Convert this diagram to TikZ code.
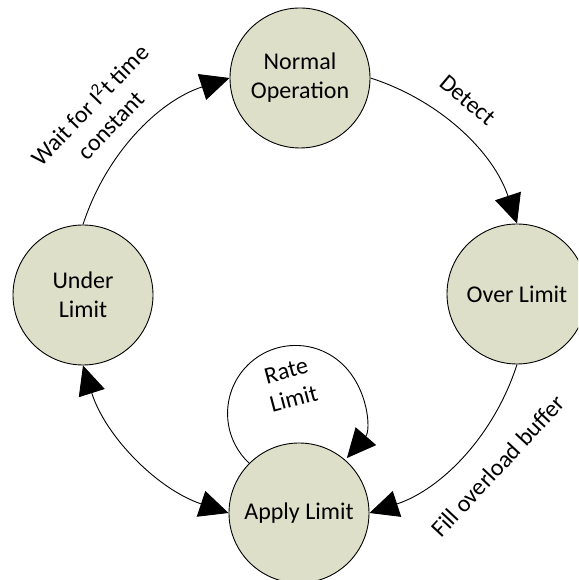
\documentclass[tikz,border=0pt]{standalone}
\usepackage{fontspec}
\setmainfont{Carlito}
\usetikzlibrary{arrows.meta}
\definecolor{statefill}{RGB}{221,223,201}
\begin{document}
\begin{tikzpicture}[x=1pt,y=1pt,
  state/.style={circle,draw=black,line width=0.9pt,fill=statefill,minimum size=140pt,inner sep=0pt,align=center,
    font=\fontsize{24}{29}\selectfont},
  lbl/.style={align=center,font=\fontsize{24}{29}\selectfont,inner sep=0pt},
  conn/.style={line width=0.9pt,-{Triangle[length=29pt,width=27pt]}},
  dconn/.style={line width=0.9pt,{Triangle[length=29pt,width=27pt]}-{Triangle[length=29pt,width=27pt]}}]
\clip (0,0) rectangle (578,580);
\node[state] (N) at (300,502) {Normal\\Operation};
\node[state] (O) at (517,286) {Over Limit};
\node[state] (A) at (299,67) {Apply Limit};
\node[state] (U) at (83,285) {Under\\Limit};
\draw[conn] (N.east) to[bend left=27,looseness=0.92] (O.north);
\draw[conn] (O.south) to[bend left=27,looseness=0.92] (A.east);
\draw[dconn] (U.south) to[bend right=27,looseness=0.92] (A.west);
\draw[conn] (U.north) to[bend left=27,looseness=0.92] (N.west);
\draw[conn] (A.135) arc[start angle=227,end angle=-41,radius=68];
\node[lbl,rotate=46] (lw) at (99,466) {Wait for I\textsuperscript{2}t time\\constant};
\node[lbl,rotate=-40] (ld) at (468,480) {Detect};
\node[lbl,rotate=47] (lf) at (498,114) {Fill overload buffer};
\node[lbl,rotate=15] (lr) at (290,195) {Rate\\Limit};
\end{tikzpicture}
\end{document}
